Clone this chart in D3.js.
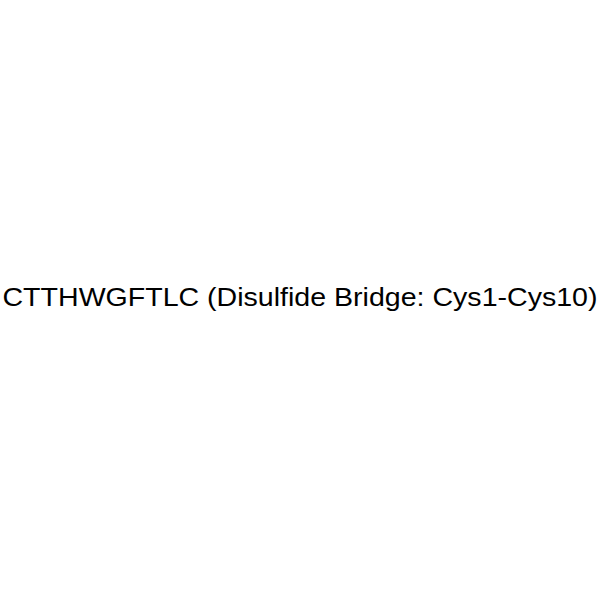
<!DOCTYPE html>
<html>
<head>
<meta charset="utf-8">
<script src="https://cdn.jsdelivr.net/npm/d3@7"></script>
<style>
body { margin: 0; background: #fff; }
</style>
</head>
<body>
<script>
var labels = ["CTTHWGFTLC (Disulfide Bridge: Cys1-Cys10)"];

var svg = d3.select("body").append("svg")
	.attr("width", 600)
	.attr("height", 600);

// text in the reference is wider than its height would suggest, so stretch it
svg.selectAll("text.name")
	.data(labels)
	.enter().append("text")
		.attr("class", "name")
		.attr("x", 300)
		.attr("y", 306)
		.attr("text-anchor", "middle")
		.attr("font-family", "'Liberation Sans', Arial, sans-serif")
		.attr("font-size", 25)
		.attr("textLength", 595)
		.attr("lengthAdjust", "spacingAndGlyphs")
		.attr("fill", "#000")
		.text(function(d) { return d; });
</script>
</body>
</html>
